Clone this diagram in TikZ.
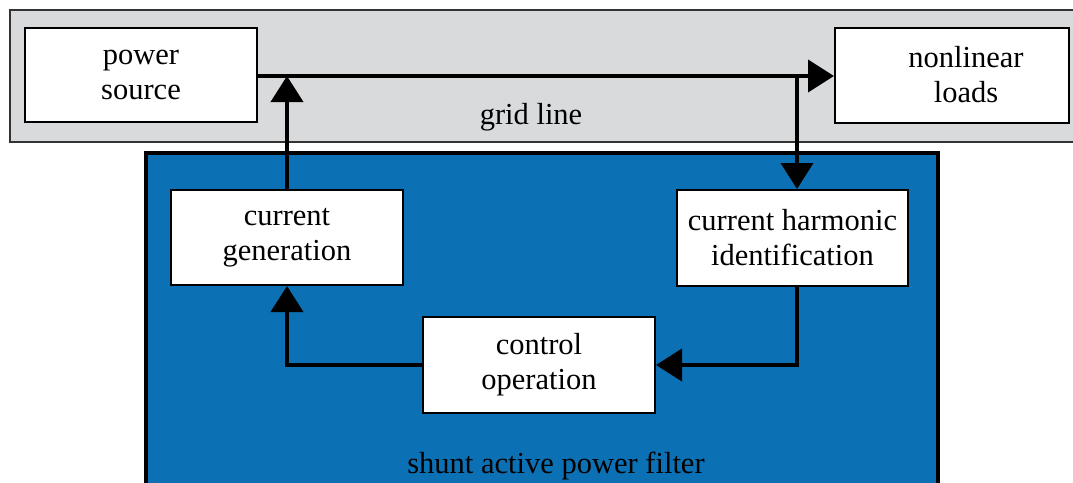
\documentclass[tikz,border=0pt]{standalone}
\usepackage{fontspec}
\setmainfont{Liberation Serif}
\usetikzlibrary{arrows.meta}
\definecolor{gridgray}{HTML}{D9DADC}
\definecolor{apfblue}{HTML}{0C71B4}
\begin{document}
\begin{tikzpicture}[x=1pt,y=-1pt,
  txt/.style={font=\fontsize{30.5}{35}\selectfont},
  blk/.style={txt,draw=black,line width=2pt,fill=white,inner sep=0pt,align=center},
  conn/.style={line width=4pt,-{Triangle[length=26pt,width=32pt]}},
  plain/.style={line width=4pt}]
\useasboundingbox (0,0) rectangle (1073,482);
\fill[white] (0,0) rectangle (1073,482);
\draw[fill=gridgray,draw=black!80,line width=1.5pt] (10,10) rectangle (1090,142);
\draw[fill=apfblue,draw=black,line width=3.5pt] (146,153) rectangle (938,500);
\node[txt] (gl) at (531,117) {grid line};
\node[txt] (sapf) at (556,466) {shunt active power filter};
\node[blk,minimum width=232pt,minimum height=94pt] (ps) at (141,75) {power\\source};
\node[blk,minimum width=234pt,minimum height=95pt] (nl) at (952,75) {\hspace*{28pt}nonlinear\\\hspace*{28pt}loads};
\node[blk,minimum width=232pt,minimum height=95pt] (cg) at (287,237.5) {current\\generation};
\node[blk,minimum width=231pt,minimum height=96pt] (chi) at (792.5,238) {current harmonic\\identification};
\node[blk,minimum width=232pt,minimum height=96pt] (co) at (539,365) {control\\operation};
\coordinate (j1) at (287,76);
\coordinate (j2) at (797,76);
\coordinate (k1) at (797,365);
\coordinate (k2) at (287,365);
\draw[plain] (ps.east |- j1) -- (j2);
\draw[conn] (j2) -- (nl.west |- j2);
\draw[conn] (cg.north -| j1) -- (j1);
\draw[conn] (j2) -- (j2 |- chi.north);
\draw[conn] (j2 |- chi.south) -- (k1) -- (co.east);
\draw[conn] (co.west) -- (k2) -- (k2 |- cg.south);
\end{tikzpicture}
\end{document}
